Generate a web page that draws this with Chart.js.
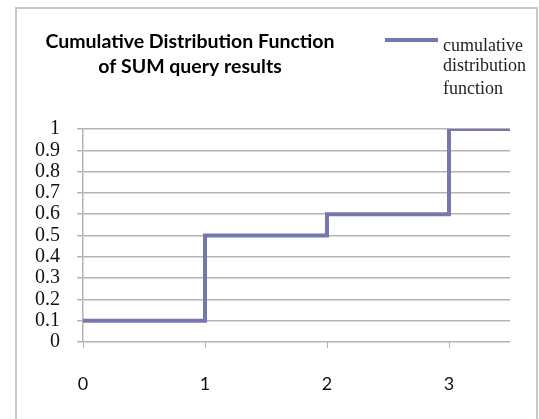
<!DOCTYPE html>
<html>
<head>
<meta charset="utf-8">
<script src="https://cdn.jsdelivr.net/npm/chart.js@4.4.1/dist/chart.umd.min.js"></script>
<style>
html,body{margin:0;padding:0;background:#fff;}
#wrap{position:relative;width:539px;height:419px;}
</style>
</head>
<body>
<div id="wrap"><canvas id="c" width="539" height="419"></canvas></div>
<script>
const xValues = [0, 1, 2, 3, 3.5];
const cdfValues = [0.1, 0.5, 0.6, 1, 1];
const xTickLabels = [0, 1, 2, 3];
const titleLines = ['Cumulative Distribution Function', 'of SUM query results'];
const legendLines = ['cumulative', 'distribution', 'function'];
const lineColor = '#7678ad';
const gridColor = '#b4b4b4';

const decor = {
  id: 'decor',
  beforeDraw(chart) {
    const ctx = chart.ctx;
    ctx.save();
    ctx.fillStyle = '#fff';
    ctx.fillRect(0, 0, chart.width, chart.height);
    ctx.strokeStyle = '#c8c8c8';
    ctx.lineWidth = 2;
    ctx.strokeRect(16, 8, 521, 430);
    ctx.restore();
  },
  afterDraw(chart) {
    const ctx = chart.ctx;
    ctx.save();
    ctx.fillStyle = '#000';
    ctx.textAlign = 'center';
    ctx.textBaseline = 'middle';
    ctx.font = 'bold 19.5px Lato, "Open Sans", sans-serif';
    ctx.fillText(titleLines[0], 190, 42);
    ctx.fillText(titleLines[1], 190, 67);
    ctx.strokeStyle = lineColor;
    ctx.lineWidth = 4;
    ctx.beginPath();
    ctx.moveTo(385, 40);
    ctx.lineTo(438, 40);
    ctx.stroke();
    ctx.fillStyle = '#222';
    ctx.textAlign = 'left';
    ctx.font = '18px "Liberation Serif", "DejaVu Serif", serif';
    ctx.fillText(legendLines[0], 443, 46);
    ctx.fillText(legendLines[1], 443, 66);
    ctx.fillText(legendLines[2], 443, 89);
    ctx.restore();
  }
};

new Chart(document.getElementById('c'), {
  type: 'line',
  data: {
    datasets: [{
      label: 'cumulative distribution function',
      data: xValues.map((x, i) => ({x: x, y: cdfValues[i]})),
      stepped: 'before',
      borderColor: lineColor,
      borderWidth: 4,
      pointRadius: 0,
      fill: false
    }]
  },
  options: {
    responsive: false,
    animation: false,
    layout: {padding: {top: 129, right: 29, left: 0, bottom: 0}},
    plugins: {legend: {display: false}, title: {display: false}, tooltip: {enabled: false}},
    scales: {
      x: {
        type: 'linear',
        min: 0,
        max: 3.5,
        afterBuildTicks: (s) => { s.ticks = xTickLabels.map(v => ({value: v})); },
        afterFit: (s) => { s.height = 77; },
        grid: {drawOnChartArea: false, drawTicks: true, tickLength: 6, color: gridColor},
        border: {display: false},
        ticks: {
          padding: 25,
          color: '#111',
          font: {family: 'Lato, "Open Sans", sans-serif', size: 18},
          maxRotation: 0,
          autoSkip: false,
          callback: (v) => String(v)
        }
      },
      y: {
        min: 0,
        max: 1,
        afterFit: (s) => { s.width = 83; },
        grid: {color: gridColor, lineWidth: 1.5, drawTicks: true, tickLength: 6},
        border: {display: true, color: gridColor, width: 1.5},
        ticks: {
          stepSize: 0.1,
          padding: 17,
          autoSkip: false,
          color: '#111',
          font: {family: '"Liberation Serif", "DejaVu Serif", serif', size: 20},
          callback: (v) => String(Math.round(v * 10) / 10)
        }
      }
    }
  },
  plugins: [decor]
});
</script>
</body>
</html>
